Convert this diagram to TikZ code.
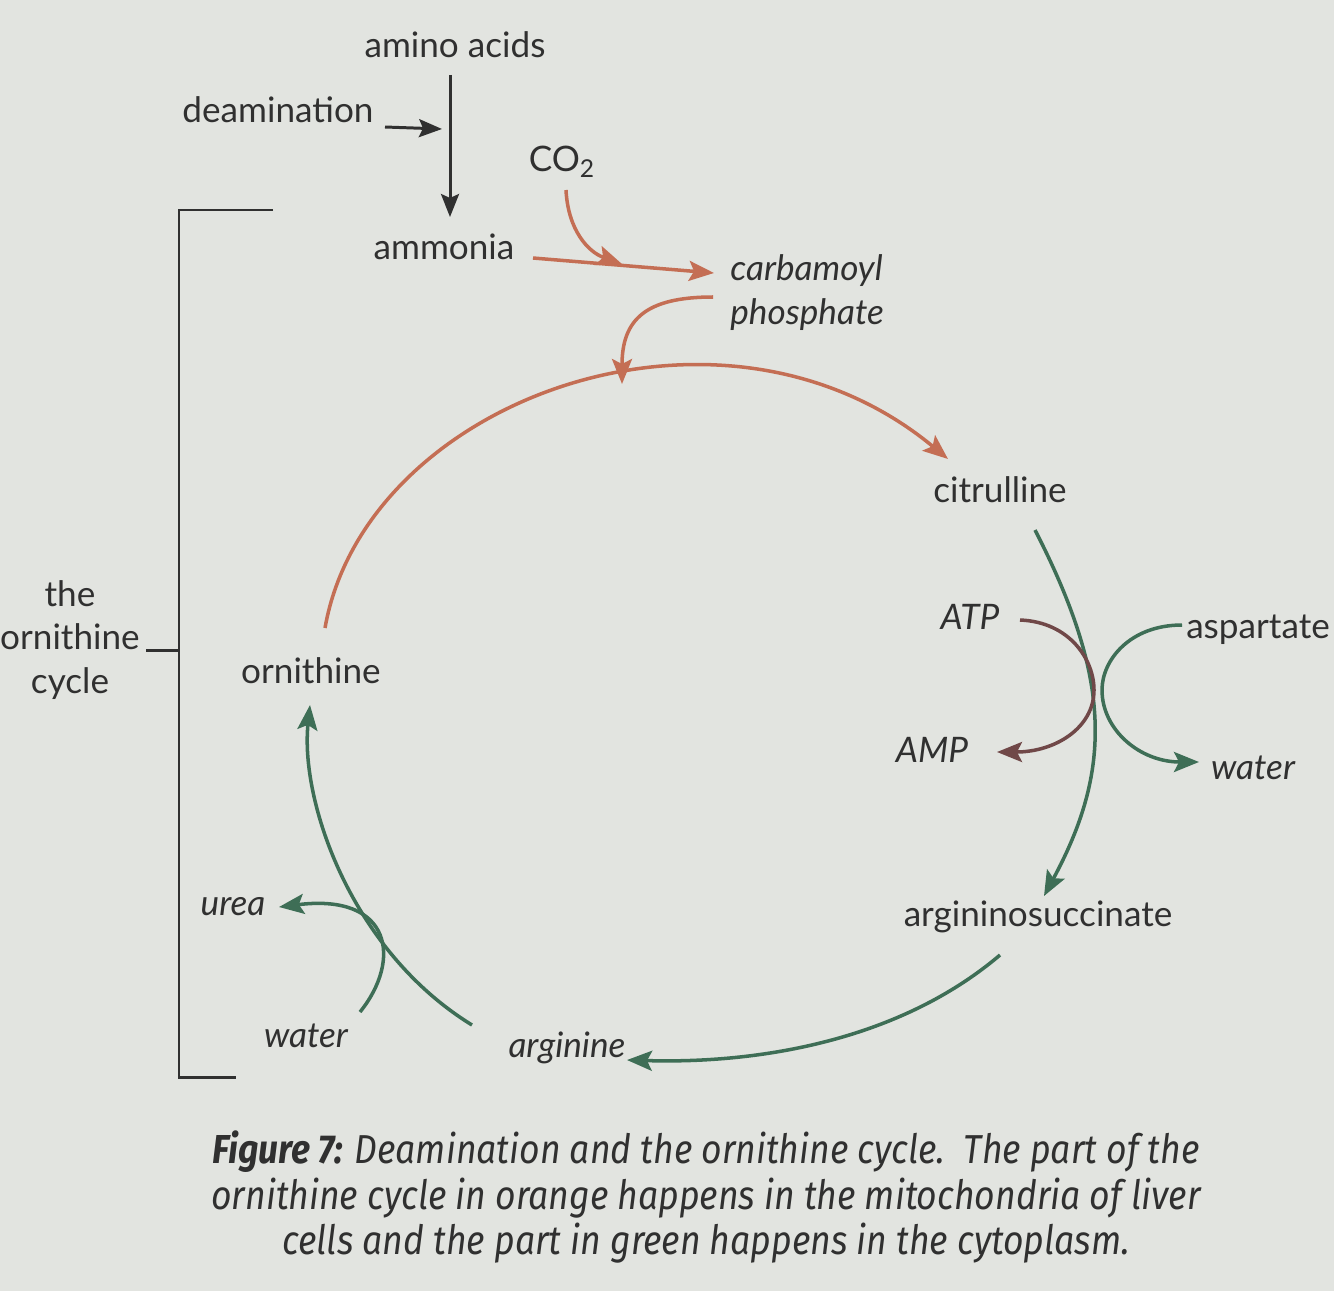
\documentclass[tikz,border=0pt]{standalone}
\usepackage{fontspec}
\setmainfont{Lato}
\newfontfamily\capfont[FakeStretch=0.88]{Fira Sans}
\usetikzlibrary{arrows.meta}
\definecolor{paper}{RGB}{226,228,224}
\definecolor{ink}{RGB}{48,48,48}
\definecolor{mito}{RGB}{196,110,84}
\definecolor{cyto}{RGB}{62,110,86}
\definecolor{atpred}{RGB}{112,72,72}
\begin{document}
\begin{tikzpicture}
  [x=0.02cm,y=-0.02cm,
   every node/.style={text=ink,font=\fontsize{20}{25}\selectfont,inner sep=0pt},
   lbl/.style={font=\fontsize{20}{25}\selectfont\itshape},
   blackarr/.style={draw=ink,line width=1.7pt,-{Stealth[length=0.46cm,width=0.36cm,inset=0.08cm]}},
   orangearr/.style={draw=mito,line width=2pt,-{Stealth[length=0.5cm,width=0.4cm,inset=0.1cm]}},
   greenarr/.style={draw=cyto,line width=2pt,-{Stealth[length=0.5cm,width=0.4cm,inset=0.1cm]}},
   atparr/.style={draw=atpred,line width=2pt,-{Stealth[length=0.5cm,width=0.4cm,inset=0.1cm]}}]
  \fill[paper] (0,0) rectangle (1334,1291);
  \useasboundingbox (0,0) rectangle (1334,1291);

  % labels
  \node (amino) at (455,45) {amino acids};
  \node (deam) at (278,110) {deamination};
  \node (ammonia) at (444,247) {ammonia};
  \node (co2) at (562,162) {CO\textsubscript{2}};
  \node[lbl,anchor=west,align=left] (carb) at (730,293) {carbamoyl\\phosphate};
  \node (citr) at (1000,490) {citrulline};
  \node[lbl] (atp) at (970,617) {ATP};
  \node[lbl] (amp) at (932,750) {AMP};
  \node (asp) at (1258,630) {aspartate};
  \node[lbl] (water2) at (1253,768) {water};
  \node (argsuc) at (1038,917) {argininosuccinate};
  \node[lbl] (arg) at (567,1048) {arginine};
  \node[lbl] (water1) at (306,1036) {water};
  \node[lbl] (urea) at (233,907) {urea};
  \node (orn) at (311,671) {ornithine};
  \node[align=center] (cyc) at (70,640) {the\\ornithine\\cycle};

  % caption
  \node[align=center,font=\capfont\itshape\fontsize{23}{26}\selectfont] (cap) at (706,1197)
    {\textbf{Figure 7:} Deamination and the ornithine cycle.\ \ The part of the\\
     ornithine cycle in orange happens in the mitochondria of liver\\
     cells and the part in green happens in the cytoplasm.};

  % connector ends
  \coordinate (a1) at (450,75);  \coordinate (a2) at (450,217);
  \coordinate (d1) at (385,127); \coordinate (d2) at (442,129);
  \coordinate (m1) at (533,258); \coordinate (m2) at (714,273);
  \coordinate (c1) at (566,190); \coordinate (c2) at (622,264);
  \coordinate (p1) at (713,297); \coordinate (p2) at (622,384);
  \coordinate (o1) at (325,628); \coordinate (o2) at (948,459);
  \coordinate (g1) at (1035,530); \coordinate (g2) at (1044,896);
  \coordinate (t1) at (1020,620); \coordinate (t2) at (997,752);
  \coordinate (s1) at (1182,625); \coordinate (s2) at (1199,762);
  \coordinate (r1) at (1000,955); \coordinate (r2) at (627,1060);
  \coordinate (l1) at (472,1025); \coordinate (l2) at (310,705);
  \coordinate (u1) at (360,1012); \coordinate (u2) at (279,907);

  % deamination
  \draw[blackarr] (a1) -- (a2);
  \draw[blackarr] (d1) -- (d2);

  % mitochondria
  \draw[orangearr] (m1) -- (m2);
  \draw[orangearr] (c1) .. controls (568,230) and (588,252) .. (c2);
  \draw[orangearr] (p1) .. controls (645,297) and (622,320) .. (p2);
  \draw[orangearr] (o1) .. controls (365,400) and (720,270) .. (o2);

  % cytoplasm
  \draw[greenarr] (g1) .. controls (1112,680) and (1112,770) .. (g2);
  \draw[atparr] (t1) .. controls (1070,622) and (1094,660) .. (1094,690)
                .. controls (1094,728) and (1055,752) .. (t2);
  \draw[greenarr] (s1) .. controls (1130,625) and (1102,660) .. (1102,690)
                  .. controls (1102,730) and (1140,762) .. (s2);
  \draw[greenarr] (r1) .. controls (900,1040) and (760,1064) .. (r2);
  \draw[greenarr] (l1) .. controls (350,950) and (300,800) .. (l2);
  \draw[greenarr] (u1) .. controls (402,960) and (392,893) .. (u2);

  % bracket
  \draw[ink,line width=1.7pt] (273,210) -- (179,210) -- (179,1077) -- (236,1077);
  \draw[ink,line width=1.7pt] (cyc.east |- 0,650) ++(6,0) -- (179,650);
\end{tikzpicture}
\end{document}
